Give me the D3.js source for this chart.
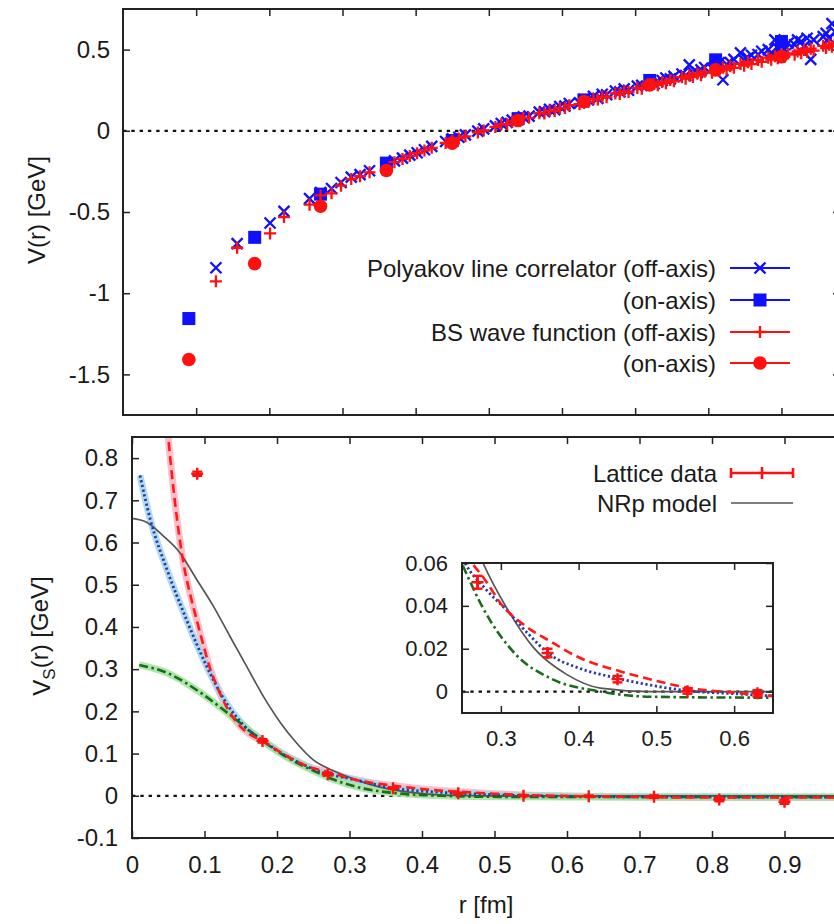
<!DOCTYPE html>
<html><head><meta charset="utf-8">
<script src="https://cdn.jsdelivr.net/npm/d3@7"></script>
<style>
body{margin:0;background:#fff}
svg{display:block}
text{font-family:"Liberation Sans",Arial,Helvetica,sans-serif;fill:#1a1a1a}
</style>
</head><body>
<svg id="c" width="834" height="924"></svg>
<script>
// ---------------- DATA ----------------
// top panel: static potential V(r)
const rOff = [0.127,0.156,0.201,0.220,0.255,0.270,0.285,0.298,0.312,0.324,
  0.337,0.371,0.382,0.392,0.402,0.412,0.422,0.441,0.450,0.459,
  0.468,0.485,0.493,0.509,0.517,0.525,0.532,0.540,0.547,0.555,
  0.569,0.576,0.583,0.590,0.597,0.604,0.610,0.624,0.630,0.636,
  0.643,0.649,0.655,0.661,0.673,0.679,0.685,0.691,0.703,0.709,
  0.726,0.731,0.737,0.742,0.748,0.753,0.764,0.769,0.774,0.779,
  0.785,0.790,0.795,0.805,0.810,0.815,0.820,0.825,0.830,0.835,
  0.844,0.849,0.854,0.859,0.868,0.873,0.882,0.886,0.891,0.895,
  0.900,0.904,0.909,0.918,0.922,0.927,0.931,0.935,0.940,0.944,
  0.957,0.961,0.965,0.969,0.973,0.978];
const polyOffV = [-0.843,-0.695,-0.568,-0.496,-0.418,-0.380,-0.355,-0.318,-0.285,-0.270,
  -0.246,-0.185,-0.168,-0.150,-0.135,-0.117,-0.096,-0.066,-0.050,-0.040,
  -0.025,-0.002,0.012,0.030,0.045,0.052,0.066,0.070,0.086,0.090,
  0.115,0.118,0.132,0.130,0.150,0.152,0.168,0.172,0.192,0.190,
  0.212,0.200,0.225,0.222,0.245,0.240,0.258,0.250,0.275,0.280,
  0.290,0.305,0.310,0.325,0.320,0.335,0.350,0.340,0.406,0.360,
  0.360,0.375,0.390,0.385,0.400,0.420,0.314,0.410,0.420,0.440,
  0.480,0.435,0.450,0.465,0.470,0.490,0.500,0.480,0.560,0.510,
  0.520,0.500,0.540,0.530,0.560,0.550,0.520,0.570,0.440,0.560,
  0.580,0.600,0.570,0.660,0.610,0.620];
const bsOffV = [-0.927,-0.720,-0.632,-0.531,-0.455,-0.398,-0.385,-0.338,-0.297,-0.280,
  -0.256,-0.193,-0.173,-0.155,-0.138,-0.121,-0.105,-0.075,-0.061,-0.047,
  -0.034,-0.010,0.002,0.024,0.040,0.041,0.058,0.062,0.080,0.080,
  0.108,0.106,0.124,0.122,0.140,0.140,0.158,0.164,0.181,0.178,
  0.196,0.192,0.210,0.206,0.230,0.226,0.243,0.239,0.264,0.259,
  0.289,0.281,0.301,0.293,0.313,0.305,0.330,0.321,0.341,0.331,
  0.352,0.342,0.363,0.358,0.378,0.368,0.388,0.377,0.398,0.388,
  0.412,0.401,0.422,0.411,0.436,0.425,0.450,0.438,0.459,0.447,
  0.468,0.455,0.476,0.469,0.489,0.478,0.498,0.486,0.506,0.494,
  0.523,0.510,0.530,0.518,0.538,0.527];
const rOn = [0.09,0.18,0.27,0.36,0.45,0.54,0.63,0.72,0.81,0.90];
const polyOnV = [-1.156,-0.656,-0.390,-0.199,-0.060,0.075,0.190,0.310,0.437,0.550];
const bsOnV = [-1.408,-0.818,-0.465,-0.244,-0.076,0.063,0.180,0.283,0.375,0.457];
const topYTicks = [-1.5,-1,-0.5,0,0.5];
const topXTicks = [0.1,0.2,0.3,0.4,0.5,0.6,0.7,0.8,0.9];
const topLegend = ["Polyakov line correlator (off-axis)","(on-axis)","BS wave function (off-axis)","(on-axis)"];

// bottom panel: spin-spin potential V_S(r)
const latR = [0.09,0.18,0.27,0.36,0.45,0.54,0.63,0.72,0.81,0.90];
const latV = [0.763,0.130,0.051,0.018,0.0058,0.0002,-0.0008,-0.002,-0.009,-0.014];
const latE = [0.005,0.004,0.003,0.002,0.0015,0.0012,0.0015,0.003,0.004,0.005];
const redFitR = [0.044,0.050,0.0593,0.0708,0.082,0.089,0.098,0.108,0.117,0.130,0.149,0.165,0.181,0.200,0.220,0.250,0.2625,0.280,0.300,0.330,0.363,0.400,0.453,0.500,0.543,0.600,0.646,0.700,0.800,0.980];
const redFitV = [0.970,0.850,0.695,0.553,0.465,0.418,0.360,0.300,0.260,0.212,0.165,0.143,0.129,0.108,0.088,0.065,0.060,0.052,0.041,0.031,0.0236,0.016,0.0095,0.005,0.0016,-0.0005,-0.0019,-0.003,-0.004,-0.004];
const blueFitR = [0.011,0.025,0.048,0.075,0.103,0.130,0.158,0.181,0.210,0.240,0.254,0.280,0.3075,0.335,0.363,0.400,0.449,0.500,0.543,0.600,0.646,0.700,0.980];
const blueFitV = [0.759,0.656,0.537,0.418,0.307,0.220,0.160,0.130,0.097,0.071,0.060,0.048,0.038,0.027,0.0173,0.011,0.0063,0.0025,0.0003,-0.001,-0.002,-0.0025,-0.003];
const greenFitR = [0.010,0.050,0.094,0.140,0.181,0.220,0.252,0.277,0.320,0.363,0.428,0.492,0.600,0.980];
const greenFitV = [0.310,0.290,0.245,0.185,0.129,0.085,0.058,0.039,0.017,0.0063,0.0,-0.0024,-0.0028,-0.003];
const nrpR = [0.000,0.020,0.043,0.066,0.089,0.112,0.135,0.158,0.181,0.204,0.227,0.250,0.277,0.3075,0.342,0.385,0.428,0.492,0.600,0.980];
const nrpV = [0.657,0.648,0.616,0.576,0.513,0.450,0.378,0.307,0.236,0.175,0.125,0.085,0.060,0.039,0.0205,0.0079,0.0016,0.0,0.0,0.0];
const botYTicks = [-0.1,0,0.1,0.2,0.3,0.4,0.5,0.6,0.7,0.8];
const botXTicks = [0,0.1,0.2,0.3,0.4,0.5,0.6,0.7,0.8,0.9];
const insYTicks = [0,0.02,0.04,0.06];
const insXTicks = [0.3,0.4,0.5,0.6];
const botLegend = ["Lattice data","NRp model"];

// ---------------- DRAW ----------------
const svg = d3.select("#c");
const FS = 24;
const INK = "#222";
const zip = (a,b) => a.map((v,i)=>[v,b[i]]);

function frame(x, y, o){
  const [xl,xr] = x.range(), [yb,yt] = y.range();
  const g = svg.append("g");
  const fmt = d => String(d);
  const mk = (axis, tr, vals, lab, pad) => {
    const a = axis.tickValues(vals).tickSizeInner(-7).tickSizeOuter(0).tickPadding(pad||0)
      .tickFormat(lab ? fmt : "");
    const s = g.append("g").attr("transform", tr).call(a);
    s.attr("font-size", null).attr("font-family", null);
    s.select(".domain").remove();
    s.selectAll(".tick line").attr("stroke", INK).attr("stroke-width", 1.5);
    s.selectAll(".tick text").style("font-size", (o.fs||FS)+"px").attr("fill", "#1a1a1a");
  };
  mk(d3.axisBottom(x), `translate(0,${yb})`, o.xt, o.xlab, o.xpad);
  mk(d3.axisTop(x), `translate(0,${yt})`, o.xt, false);
  mk(d3.axisLeft(y), `translate(${xl},0)`, o.yt, true, o.ypad);
  mk(d3.axisRight(y), `translate(${xr},0)`, o.yt, false);
  g.append("rect").attr("x", xl).attr("y", yt).attr("width", xr-xl).attr("height", yb-yt)
    .attr("fill", "none").attr("stroke", INK).attr("stroke-width", 2);
  return g;
}
function clip(id, x, y){
  const [xl,xr] = x.range(), [yb,yt] = y.range();
  svg.append("clipPath").attr("id", id).append("rect")
    .attr("x", xl).attr("y", yt).attr("width", xr-xl).attr("height", yb-yt);
  return `url(#${id})`;
}
function zeroLine(g, x, y){
  g.append("line").attr("x1", x.range()[0]).attr("x2", x.range()[1])
    .attr("y1", y(0)).attr("y2", y(0)).attr("stroke", "#111").attr("stroke-width", 2.2)
    .attr("stroke-dasharray", "3.4,4.9");
}
const crossPath = s => `M${-s},${-s}L${s},${s}M${-s},${s}L${s},${-s}`;
const plusPath = s => `M${-s},0L${s},0M0,${-s}L0,${s}`;

// ===== Top panel =====
const xT = d3.scaleLinear().domain([0,0.98]).range([123,840]);
const yT = d3.scaleLinear().domain([-1.75,0.75]).range([415,9]);
const gTop = svg.append("g").attr("clip-path", clip("cT", xT, yT));
zeroLine(gTop, xT, yT);
const blue = "#1010ff", red = "#ff1010";
gTop.append("g").selectAll("path").data(zip(rOff, polyOffV)).join("path")
  .attr("transform", d=>`translate(${xT(d[0])},${yT(d[1])})`).attr("d", crossPath(5.5))
  .attr("stroke", blue).attr("stroke-width", 2.3).attr("fill", "none");
gTop.append("g").selectAll("rect").data(zip(rOn, polyOnV)).join("rect")
  .attr("x", d=>xT(d[0])-6.5).attr("y", d=>yT(d[1])-6.5).attr("width", 13).attr("height", 13)
  .attr("fill", blue);
gTop.append("g").selectAll("path").data(zip(rOff, bsOffV)).join("path")
  .attr("transform", d=>`translate(${xT(d[0])},${yT(d[1])})`).attr("d", plusPath(6))
  .attr("stroke", red).attr("stroke-width", 2.3).attr("fill", "none");
gTop.append("g").selectAll("circle").data(zip(rOn, bsOnV)).join("circle")
  .attr("cx", d=>xT(d[0])).attr("cy", d=>yT(d[1])).attr("r", 6.8).attr("fill", red);
frame(xT, yT, {xt: topXTicks, yt: topYTicks, xlab: false, ypad: 13});
svg.append("text").attr("transform", "translate(45,210) rotate(-90)")
  .attr("text-anchor", "middle").style("font-size", FS+"px").text("V(r) [GeV]");

// top legend
const legT = svg.append("g");
const legRows = [268,300,332,363];
const legCol = [blue, blue, red, red];
legRows.forEach((yy,i)=>{
  legT.append("text").attr("x", 716).attr("y", yy).attr("dy", "0.36em").attr("text-anchor", "end")
    .style("font-size", FS+"px").text(topLegend[i]);
  legT.append("line").attr("x1", 730).attr("x2", 790).attr("y1", yy).attr("y2", yy)
    .attr("stroke", legCol[i]).attr("stroke-width", 2);
  if (i===0) legT.append("path").attr("transform", `translate(760,${yy})`).attr("d", crossPath(5.5)).attr("stroke", blue).attr("stroke-width", 2.3);
  if (i===1) legT.append("rect").attr("x", 753.5).attr("y", yy-6.5).attr("width", 13).attr("height", 13).attr("fill", blue);
  if (i===2) legT.append("path").attr("transform", `translate(760,${yy})`).attr("d", plusPath(6)).attr("stroke", red).attr("stroke-width", 2.3);
  if (i===3) legT.append("circle").attr("cx", 760).attr("cy", yy).attr("r", 6.8).attr("fill", red);
});

// ===== Bottom panel =====
const xB = d3.scaleLinear().domain([0,0.98]).range([132,842.5]);
const yB = d3.scaleLinear().domain([-0.1,0.85]).range([838,437]);
const gBot = svg.append("g").attr("clip-path", clip("cB", xB, yB));
zeroLine(gBot, xB, yB);
const lineB = d3.line().x(d=>xB(d[0])).y(d=>yB(d[1])).curve(d3.curveMonotoneX);
const curves = [
  {r: redFitR, v: redFitV, band: "#ffb3bf", col: "#ff1a1a", dash: "9,5", w: 2.6},
  {r: blueFitR, v: blueFitV, band: "#a3d5ea", col: "#2438b0", dash: "2.2,2.6", w: 2.8},
  {r: greenFitR, v: greenFitV, band: "#9fe39a", col: "#1d6a1d", dash: "9,3.5,2.5,3.5", w: 2.6}
];
curves.forEach(c=>{
  gBot.append("path").attr("d", lineB(zip(c.r,c.v))).attr("fill","none")
    .attr("stroke", c.band).attr("stroke-width", 7).attr("opacity", 0.85);
});
gBot.append("path").attr("d", lineB(zip(nrpR,nrpV))).attr("fill","none")
  .attr("stroke", "#555").attr("stroke-width", 1.7);
[curves[2], curves[1], curves[0]].forEach(c=>{
  gBot.append("path").attr("d", lineB(zip(c.r,c.v))).attr("fill","none")
    .attr("stroke", c.col).attr("stroke-width", c.w).attr("stroke-dasharray", c.dash);
});
function errPoints(g, x, y, cap, ps){
  const pts = latR.map((r,i)=>({r, v: latV[i], e: latE[i]}))
    .filter(d => d.r >= x.domain()[0] && d.r <= x.domain()[1]);
  const s = g.append("g").attr("stroke", "#ff1010").attr("stroke-width", 2.4).attr("fill", "none");
  pts.forEach(d=>{
    const cx = x(d.r), y1 = y(d.v-d.e), y2 = y(d.v+d.e), cy = y(d.v);
    s.append("line").attr("x1", cx).attr("x2", cx).attr("y1", y1).attr("y2", y2);
    s.append("line").attr("x1", cx-cap).attr("x2", cx+cap).attr("y1", y1).attr("y2", y1);
    s.append("line").attr("x1", cx-cap).attr("x2", cx+cap).attr("y1", y2).attr("y2", y2);
    s.append("path").attr("transform", `translate(${cx},${cy})`).attr("d", plusPath(ps));
  });
}
errPoints(gBot, xB, yB, 5, 6);
frame(xB, yB, {xt: botXTicks, yt: botYTicks, xlab: true, xpad: 18, ypad: 14});
const ylab = svg.append("text").attr("transform", "translate(50,636) rotate(-90)")
  .attr("text-anchor", "middle").style("font-size", FS+"px");
ylab.append("tspan").text("V");
ylab.append("tspan").attr("dy", "0.3em").style("font-size", "17px").text("S");
ylab.append("tspan").attr("dy", "-0.3em").text("(r) [GeV]");
svg.append("text").attr("x", 486).attr("y", 913).attr("text-anchor", "middle")
  .style("font-size", FS+"px").text("r [fm]");

// bottom legend
const legB = svg.append("g");
legB.append("text").attr("x", 717).attr("y", 473).attr("dy", "0.36em").attr("text-anchor", "end")
  .style("font-size", FS+"px").text(botLegend[0]);
legB.append("text").attr("x", 717).attr("y", 503).attr("dy", "0.36em").attr("text-anchor", "end")
  .style("font-size", FS+"px").text(botLegend[1]);
const lg = legB.append("g").attr("stroke", "#ff1010").attr("stroke-width", 2.6);
lg.append("line").attr("x1", 731).attr("x2", 793).attr("y1", 473).attr("y2", 473);
lg.append("line").attr("x1", 731).attr("x2", 731).attr("y1", 468).attr("y2", 478);
lg.append("line").attr("x1", 793).attr("x2", 793).attr("y1", 468).attr("y2", 478);
lg.append("line").attr("x1", 762).attr("x2", 762).attr("y1", 467).attr("y2", 479);
legB.append("line").attr("x1", 731).attr("x2", 793).attr("y1", 503).attr("y2", 503)
  .attr("stroke", "#555").attr("stroke-width", 1.7);

// ===== Inset =====
const xI = d3.scaleLinear().domain([0.25,0.65]).range([462,773]);
const yI = d3.scaleLinear().domain([-0.01,0.06]).range([713,563]);
svg.append("rect").attr("x", 462).attr("y", 563).attr("width", 311).attr("height", 150).attr("fill", "#fff");
const gIn = svg.append("g").attr("clip-path", clip("cI", xI, yI));
zeroLine(gIn, xI, yI);
const lineI = d3.line().x(d=>xI(d[0])).y(d=>yI(d[1])).curve(d3.curveMonotoneX);
gIn.append("path").attr("d", lineI(zip(nrpR,nrpV))).attr("fill","none")
  .attr("stroke", "#555").attr("stroke-width", 1.7);
[curves[2], curves[1], curves[0]].forEach(c=>{
  gIn.append("path").attr("d", lineI(zip(c.r,c.v))).attr("fill","none")
    .attr("stroke", c.col).attr("stroke-width", c.w).attr("stroke-dasharray", c.dash);
});
errPoints(gIn, xI, yI, 5, 6);
frame(xI, yI, {xt: insXTicks, yt: insYTicks, xlab: true, xpad: 17, ypad: 14, fs: 22});
</script>
</body></html>
